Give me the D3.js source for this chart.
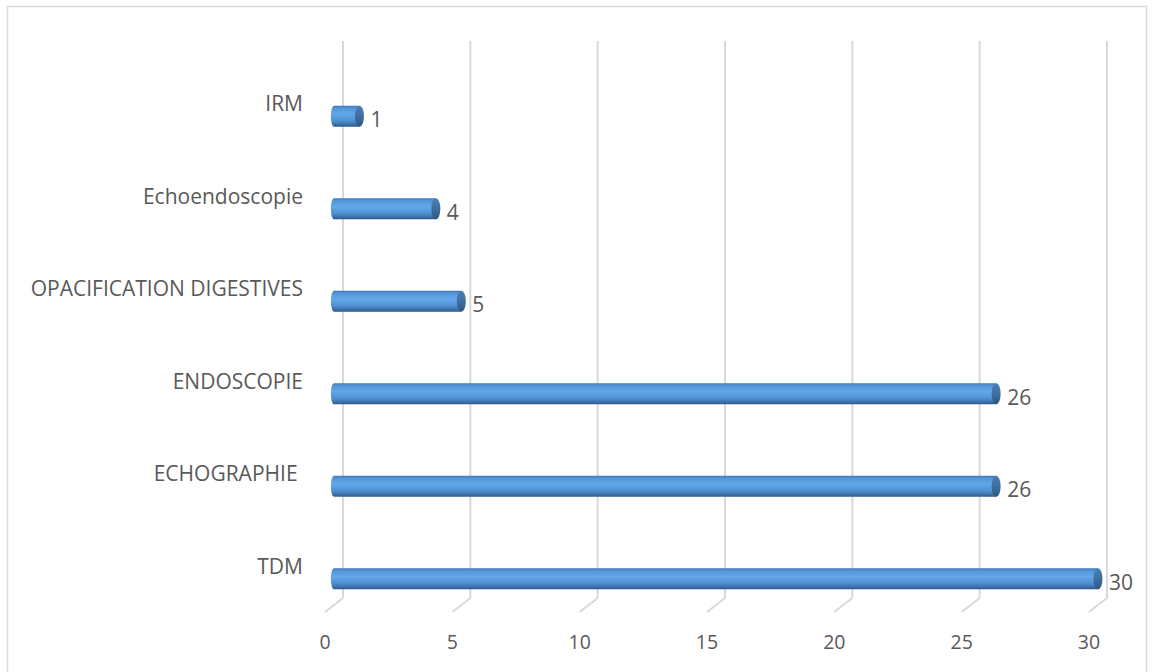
<!DOCTYPE html>
<html>
<head>
<meta charset="utf-8">
<script src="https://cdn.jsdelivr.net/npm/d3@7"></script>
<style>
  html, body { margin: 0; padding: 0; background: #fff; }
  svg { display: block; }
  text { font-family: "Open Sans", "Lato", sans-serif; fill: #595959; }
</style>
</head>
<body>
<svg id="chart" width="1154" height="672"></svg>
<script>
// Examens réalisés (effectifs)
const categories = ["TDM", "ECHOGRAPHIE ", "ENDOSCOPIE", "OPACIFICATION DIGESTIVES", "Echoendoscopie", "IRM"];
const values = [30, 26, 26, 5, 4, 1];
const tickValues = [0, 5, 10, 15, 20, 25, 30];

const svg = d3.select("#chart");

// oblique depth offset of the 3D floor (back plane -> front plane)
const depthX = -18, depthY = 14;
const plotTop = 41, plotBottom = 598;

// value scale on the back wall, and at bar depth (middle)
const xBack = d3.scaleLinear().domain([0, 30]).range([343, 1107]);
const xBar = d3.scaleLinear().domain([0, 30]).range([334, 1098]);
const y = d3.scaleBand().domain(categories).range([625, 70]);

// chart frame
svg.append("rect")
  .attr("x", 7.5).attr("y", 6.5)
  .attr("width", 1139).attr("height", 720)
  .attr("fill", "none").attr("stroke", "#d9d9d9").attr("stroke-width", 1.5);

// gradients for the cylinders
const defs = svg.append("defs");
const body = defs.append("linearGradient").attr("id", "cylBody")
  .attr("x1", 0).attr("y1", 0).attr("x2", 0).attr("y2", 1);
[[0, "#3f78b4"], [0.12, "#5496d8"], [0.4, "#62a8eb"], [0.7, "#5192d3"], [0.88, "#3e74ad"], [1, "#2c5784"]]
  .forEach(([o, c]) => body.append("stop").attr("offset", o).attr("stop-color", c));
const cap = defs.append("linearGradient").attr("id", "cylCap")
  .attr("x1", 0).attr("y1", 0).attr("x2", 0).attr("y2", 1);
[[0, "#4a7fb3"], [0.5, "#3f6f9f"], [1, "#2e5781"]]
  .forEach(([o, c]) => cap.append("stop").attr("offset", o).attr("stop-color", c));

// gridlines on the back wall and floor
const grid = svg.append("g");
tickValues.forEach(v => {
  grid.append("line")
    .attr("x1", xBack(v)).attr("x2", xBack(v))
    .attr("y1", plotTop).attr("y2", plotBottom)
    .attr("stroke", "#d9d9d9").attr("stroke-width", 2);
  grid.append("line")
    .attr("x1", xBack(v)).attr("y1", plotBottom)
    .attr("x2", xBack(v) + depthX).attr("y2", plotBottom + depthY)
    .attr("stroke", "#d9d9d9").attr("stroke-width", 2);
});

// value axis labels on the front edge of the floor
svg.append("g").selectAll("text")
  .data(tickValues).join("text")
  .attr("x", d => xBack(d) + depthX)
  .attr("y", 649)
  .attr("text-anchor", "middle")
  .attr("font-size", 19.5)
  .text(d => d);

// cylinders
const bh = 21, rx = 4.5;
const bars = svg.append("g").selectAll("g")
  .data(categories.map((c, i) => ({ c, v: values[i] })))
  .join("g")
  .attr("transform", d => `translate(0,${y(d.c) + y.bandwidth() / 2})`);

bars.append("path")
  .attr("fill", "url(#cylBody)")
  .attr("d", d => {
    const x0 = xBar(0), x1 = xBar(d.v), r = bh / 2;
    return `M${x1},${-r} L${x0},${-r} A${rx * 0.7},${r} 0 0 0 ${x0},${r} L${x1},${r} Z`;
  });

bars.append("ellipse")
  .attr("cx", d => xBar(d.v))
  .attr("cy", 0)
  .attr("rx", rx).attr("ry", bh / 2)
  .attr("fill", "url(#cylCap)");

// value labels
bars.append("text")
  .attr("x", d => xBar(d.v) + 11)
  .attr("y", 11)
  .attr("font-size", 21)
  .text(d => d.v);

// category labels
svg.append("g").selectAll("text")
  .data(categories).join("text")
  .attr("x", 303)
  .attr("y", d => y(d) + y.bandwidth() / 2 - 5)
  .attr("text-anchor", "end")
  .attr("font-size", 21)
  .attr("xml:space", "preserve")
  .style("white-space", "pre")
  .text(d => d);
</script>
</body>
</html>
